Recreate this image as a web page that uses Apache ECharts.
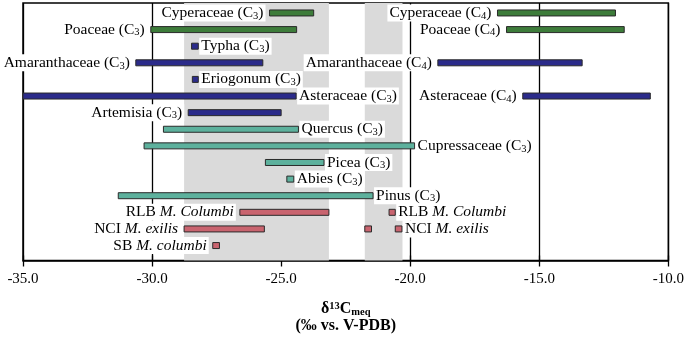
<!DOCTYPE html>
<html lang="en">
<head>
	<meta charset="UTF-8">
	<title>d13C ranges</title>
	<style>
		html, body { margin: 0; padding: 0; background: #fff; }
		#main { width: 687px; height: 339px; }
	</style>
</head>
<body>
	<div id="main"></div>
	<script src="https://cdn.jsdelivr.net/npm/echarts@6/dist/echarts.min.js"></script>
	<script>
		// ranges, one entry per bar
		var segLabels = ['Cyperaceae (C_3)', 'Cyperaceae (C_4)', 'Poaceae (C_3)', 'Poaceae (C_4)', 'Typha (C_3)',
			'Amaranthaceae (C_3)', 'Amaranthaceae (C_4)', 'Eriogonum (C_3)', 'Asteraceae (C_3)', 'Asteraceae (C_4)',
			'Artemisia (C_3)', 'Quercus (C_3)', 'Cupressaceae (C_3)', 'Picea (C_3)', 'Abies (C_3)', 'Pinus (C_3)',
			'RLB *M. Columbi*', 'RLB *M. Columbi*', 'NCI *M. exilis*', '', 'NCI *M. exilis*', 'SB *M. columbi*'];
		var segRow = [1, 1, 2, 2, 3, 4, 4, 5, 6, 6, 7, 8, 9, 10, 11, 12, 13, 13, 14, 14, 14, 15];
		var segLow = [-25.45, -16.62, -30.05, -16.27, -28.47, -30.63, -18.93, -28.44, -35.0, -15.64,
			-28.6, -29.56, -30.31, -25.61, -24.78, -31.31, -26.6, -20.82, -28.76, -21.76, -20.58, -27.65];
		var segHigh = [-23.74, -12.05, -24.4, -11.71, -28.21, -25.71, -13.34, -28.21, -24.42, -10.7,
			-25.0, -24.33, -19.83, -23.34, -24.51, -21.44, -23.15, -20.58, -25.65, -21.5, -20.32, -27.39];
		var segGroup = ['grass', 'grass', 'grass', 'grass', 'herb', 'herb', 'herb', 'herb', 'herb', 'herb',
			'herb', 'tree', 'tree', 'tree', 'tree', 'tree', 'mammoth', 'mammoth', 'mammoth', 'mammoth', 'mammoth', 'mammoth'];
		var bandLow = [-28.76, -21.76];
		var bandHigh = [-23.15, -20.3];
		var xTicks = [-35, -30, -25, -20, -15, -10];

		// styling
		var groupColors = { grass: '#3d7c3a', herb: '#2b2b8a', tree: '#5db19d', mammoth: '#c9646f' };
		var labelLeft = { 0: 1, 1: 1, 2: 1, 3: 1, 5: 1, 6: 1, 9: 1, 10: 1, 16: 1, 18: 1, 21: 1 };
		var serif = '"Liberation Serif", "Times New Roman", serif';
		var fs = 15.5;

		function richText(s) {
			if (!s) return '';
			var out = '';
			var parts = s.split('*');
			parts.forEach(function (p, k) {
				if (!p) return;
				var tag = k % 2 ? 'i' : 'n';
				out += p.replace(/_(\d)/g, '}{s|$1}{' + tag + '|').replace(/^/, '{' + tag + '|') + '}';
			});
			return out.replace(/\{[ni]\|\}/g, '');
		}

		var myChart = echarts.init(document.getElementById('main'));

		var segData = segLabels.map(function (l, i) {
			return [segLow[i], segHigh[i], segRow[i], i];
		});

		option = {
			animation: false,
			grid: {
				left: 23, right: 15, top: 3, bottom: 76,
				show: true, borderColor: '#000', borderWidth: 1.5
			},
			xAxis: [{
				type: 'value',
				min: xTicks[0], max: xTicks[xTicks.length - 1], interval: 5,
				position: 'bottom',
				axisLine: { show: true, onZero: false, lineStyle: { color: '#000', width: 1.5 } },
				axisTick: { show: true, length: 6, lineStyle: { color: '#000', width: 1.3 } },
				axisLabel: {
					margin: 11, color: '#000', fontFamily: serif, fontSize: 15,
					formatter: function (v) { return v.toFixed(1); }
				},
				splitLine: { show: true, lineStyle: { color: '#000', width: 1.3 } },
				name: '{b|δ}{sup|13}{b|C}{sub|meq}\n{b|(‰ vs. V-PDB)}',
				nameLocation: 'middle',
				nameGap: 40,
				nameTextStyle: {
					rich: {
						b: { fontFamily: serif, fontSize: 16, fontWeight: 'bold', color: '#000', lineHeight: 17 },
						sup: { fontFamily: serif, fontSize: 10.5, fontWeight: 'bold', color: '#000', lineHeight: 10, verticalAlign: 'top' },
						sub: { fontFamily: serif, fontSize: 10.5, fontWeight: 'bold', color: '#000', lineHeight: 10, verticalAlign: 'bottom' }
					}
				}
			}, {
				// second copy of the axis only for the inward half of the cross ticks
				type: 'value',
				min: xTicks[0], max: xTicks[xTicks.length - 1], interval: 5,
				position: 'bottom',
				axisLine: { show: false, onZero: false },
				axisTick: { show: true, inside: true, length: 5, lineStyle: { color: '#000', width: 1.3 } },
				axisLabel: { show: false },
				splitLine: { show: false }
			}],
			yAxis: {
				type: 'value', inverse: true, min: 0.4, max: 15.9, show: false
			},
			series: [{
				type: 'line',
				data: [],
				z: -1,
				markArea: {
					silent: true,
					itemStyle: { color: '#dadada' },
					data: bandLow.map(function (lo, k) {
						return [{ xAxis: lo }, { xAxis: bandHigh[k] }];
					})
				}
			}, {
				type: 'custom',
				clip: false,
				data: segData,
				encode: { x: [0, 1], y: 2 },
				renderItem: function (params, api) {
					var i = api.value(3);
					var a = api.coord([api.value(0), api.value(2)]);
					var b = api.coord([api.value(1), api.value(2)]);
					var h = 6;
					var kids = [{
						type: 'rect',
						shape: { x: a[0], y: a[1] - h / 2, width: b[0] - a[0], height: h },
						style: { fill: groupColors[segGroup[i]], stroke: '#2a2a2a', lineWidth: 1 }
					}];
					var txt = richText(segLabels[i]);
					if (txt) {
						var left = !!labelLeft[i];
						kids.push({
							type: 'text',
							x: left ? a[0] - 4 : b[0] + 1,
							y: a[1],
							z2: 10,
							style: {
								text: txt,
								align: left ? 'right' : 'left',
								verticalAlign: 'middle',
								fontFamily: serif,
								fontSize: fs,
								backgroundColor: '#fff',
								padding: [0, 2],
								rich: {
									n: { fontFamily: serif, fontSize: fs, color: '#000', lineHeight: 17 },
									i: { fontFamily: serif, fontSize: fs, fontStyle: 'italic', color: '#000', lineHeight: 17 },
									s: { fontFamily: serif, fontSize: 10.5, color: '#000', lineHeight: 10, verticalAlign: 'bottom' }
								}
							}
						});
					}
					return { type: 'group', children: kids };
				}
			}]
		};

		myChart.setOption(option);
	</script>
</body>
</html>
